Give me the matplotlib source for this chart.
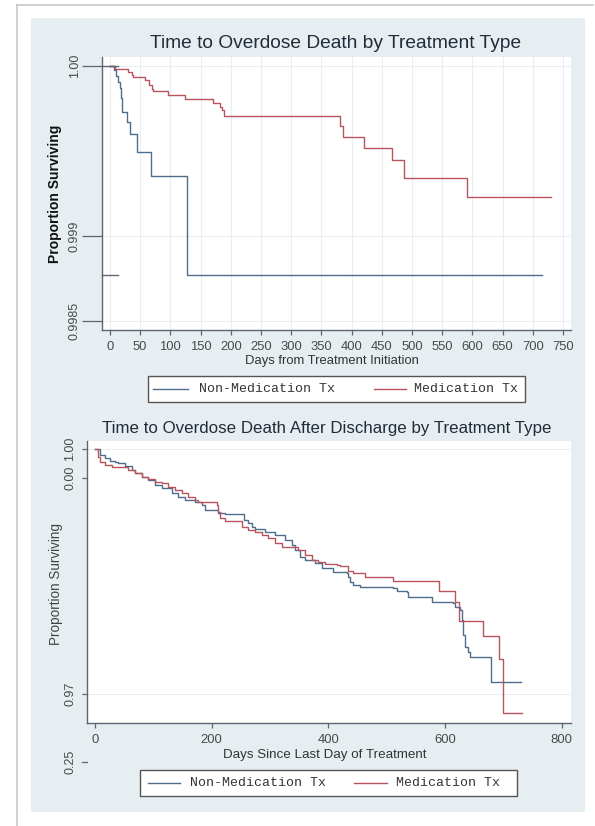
import matplotlib
matplotlib.use('Agg')
import matplotlib.pyplot as plt
from matplotlib.lines import Line2D
from matplotlib.patches import Rectangle
import matplotlib.transforms as mtransforms

plt.rcParams['font.family'] = ['Liberation Sans', 'DejaVu Sans']

# ---------------- data ----------------
title1 = "Time to Overdose Death by Treatment Type"
xlabel1 = "Days from Treatment Initiation"
title2 = "Time to Overdose Death After Discharge by Treatment Type"
xlabel2 = "Days Since Last Day of Treatment"
ylabel = "Proportion Surviving"
series_names = ["Non-Medication Tx", "Medication Tx"]

# Panel 1 (Kaplan-Meier, during treatment)
nonmed1_days = [0, 6.6, 9.9, 13.8, 16.6, 18.2, 20.4, 27.6, 33.1, 44.2, 67.4, 128.0, 715.0]
nonmed1_surv = [1.0, 0.999976, 0.999943, 0.999908, 0.999869, 0.999810, 0.999728,
                0.999672, 0.999600, 0.999496, 0.999355, 0.998771, 0.998771]
med1_days = [0, 8.3, 30.3, 36.9, 38.6, 57.9, 65.0, 69.0, 71.7, 96.5, 124.0, 171.0,
             182.0, 185.0, 189.0, 381.0, 386.0, 421.0, 466.4, 487.3, 591.6, 729.6]
med1_surv = [1.0, 0.999981, 0.999966, 0.999947, 0.999935, 0.999918, 0.999888, 0.999863,
             0.999853, 0.999829, 0.999804, 0.999784, 0.999761, 0.999741, 0.999706,
             0.999647, 0.999584, 0.999519, 0.999447, 0.999341, 0.999229, 0.999229]
# short stray segments near the y axis in panel 1
stray1_levels = [1.0, 0.998771]
stray1_end_day = 12.7

x1_ticks = list(range(0, 751, 50))
y1_ticks = [1.0, 0.999, 0.9985]
y1_ticklabels = ["1.00", "0.999", "0.9985"]

# Panel 2 (after discharge)
nonmed2_days = [0, 8.6, 17.1, 25.7, 34.3, 39.9, 51.4, 62.9, 68.6, 80.1, 91.4, 102.9, 114.3,
                131.5, 142.8, 154.3, 171.4, 182.9, 188.6, 211.4, 222.9, 256.0, 262.8,
                268.6, 274.3, 291.4, 308.6, 325.7, 337.2, 342.9, 351.4, 360.0, 377.2,
                388.7, 408.5, 431.5, 434.3, 437.2, 442.8, 454.3, 511.4, 517.2, 534.4,
                537.1, 577.2, 614.3, 617.2, 625.7, 628.7, 631.4, 634.3, 640.0, 642.9,
                678.4, 730.3]
nonmed2_surv = [1.0, 0.99927, 0.99886, 0.99857, 0.99844, 0.99825, 0.99792, 0.99743, 0.99702,
                0.99661, 0.99620, 0.99559, 0.99519, 0.99465, 0.99409, 0.99376, 0.99355,
                0.99314, 0.99253, 0.99220, 0.99204, 0.99131, 0.99090, 0.99049, 0.99017,
                0.98987, 0.98947, 0.98886, 0.98824, 0.98763, 0.98681, 0.98641, 0.98600,
                0.98539, 0.98498, 0.98478, 0.98436, 0.98375, 0.98335, 0.98314, 0.98294,
                0.98265, 0.98253, 0.98191, 0.98130, 0.98118, 0.98069, 0.98029, 0.97906,
                0.97722, 0.97579, 0.97518, 0.97449, 0.97151, 0.97151]
med2_days = [0, 4.6, 8.6, 17.1, 28.6, 57.1, 68.6, 80.1, 91.4, 102.9, 114.3, 125.7, 137.2,
             148.6, 160.0, 171.4, 177.1, 208.6, 211.4, 214.3, 222.9, 251.5, 262.8, 274.3,
             285.8, 297.1, 308.6, 320.1, 337.2, 348.5, 360.0, 371.5, 382.8, 394.3, 414.4,
             420.0, 434.3, 442.8, 463.1, 511.4, 590.3, 617.2, 624.5, 664.7, 692.6, 698.9,
             731.5]
med2_surv = [1.0, 0.99906, 0.99844, 0.99804, 0.99783, 0.99743, 0.99702, 0.99661, 0.99629,
             0.99600, 0.99580, 0.99538, 0.99498, 0.99458, 0.99416, 0.99376, 0.99355, 0.99314,
             0.99232, 0.99151, 0.99122, 0.99049, 0.99008, 0.98987, 0.98947, 0.98906,
             0.98845, 0.98804, 0.98796, 0.98763, 0.98702, 0.98641, 0.98620, 0.98592,
             0.98580, 0.98567, 0.98510, 0.98478, 0.98429, 0.98387, 0.98265, 0.98130,
             0.97897, 0.97710, 0.97425, 0.96764, 0.96764]

x2_ticks = [0, 200, 400, 600, 800]
y2_ticks = [1.0, 0.99645, 0.97]
y2_ticklabels = ["1.00", "0.00", "0.97"]
y2_extra_tick = 0.96167
y2_extra_label = "0.25"
y2_grid = [1.0, 0.97]

# ---------------- style ----------------
W, H = 595, 826
BG = '#e7eef2'
AX = '#5c6670'
GRID = '#e9eef2'
TK = '#4a4a4a'
TITLE = '#222c38'
C_NON = '#4d6d8b'
C_MED = '#b9545c'

fig = plt.figure(figsize=(W / 100, H / 100), dpi=100)
fig.patch.set_facecolor('white')


def fx(px):
    return px / W


def fy(py):
    return 1 - py / H


fig.add_artist(Rectangle((fx(31), fy(812)), fx(585) - fx(31), fy(18) - fy(812),
                         facecolor=BG, edgecolor='none', zorder=0))
fig.add_artist(Line2D([fx(17), fx(17)], [fy(5), fy(826)], color='#c8c8c8', lw=1.2))
fig.add_artist(Line2D([fx(17), fx(593)], [fy(5), fy(5)], color='#c8c8c8', lw=1.2))


def style_axes(ax):
    ax.set_facecolor('white')
    for s in ['top', 'right']:
        ax.spines[s].set_visible(False)
    for s in ['left', 'bottom']:
        ax.spines[s].set_color(AX)
        ax.spines[s].set_linewidth(1.0)


# ---------------- panel 1 ----------------
ax1 = fig.add_axes([fx(102), fy(330), fx(571) - fx(102), fy(57) - fy(330)])
style_axes(ax1)
ax1.set_xlim(-13.2, 763.2)
ax1.set_ylim(0.998447, 1.0000529)
ax1.set_xticks(x1_ticks)
ax1.set_yticks(y1_ticks, y1_ticklabels)
ax1.grid(True, color=GRID, lw=0.8, zorder=0)
ax1.set_axisbelow(True)
ax1.step(nonmed1_days, nonmed1_surv, where='post', color=C_NON, lw=1.0, zorder=3)
ax1.step(med1_days, med1_surv, where='post', color=C_MED, lw=1.0, zorder=3)
for lv in stray1_levels:
    ax1.plot([-13.2, stray1_end_day], [lv, lv], color=AX, lw=1.0, zorder=4, clip_on=False)
ax1.tick_params(axis='y', length=14.4, width=0.9, color=AX, labelsize=9, labelcolor=TK,
                pad=1, labelrotation=90)
ax1.tick_params(axis='x', length=3.6, width=0.9, color=AX, labelsize=9.4, labelcolor=TK, pad=4.5)
for lab in ax1.get_yticklabels():
    lab.set_va('center')

fig.text(fx(336), fy(43), title1, ha='center', va='center', fontsize=13.8, color=TITLE)
fig.text(fx(332), fy(361), xlabel1, ha='center', va='center', fontsize=9.4, color='#333333')
fig.text(fx(55), fy(193.5), ylabel, ha='center', va='center', rotation=90, fontsize=10,
         fontweight='bold', color='#111111')

# ---------------- panel 2 ----------------
ax2 = fig.add_axes([fx(87), fy(723), fx(571) - fx(87), fy(441) - fy(723)])
style_axes(ax2)
ax2.set_xlim(-13.7, 816.0)
ax2.set_ylim(0.96645, 1.00098)
ax2.set_xticks(x2_ticks)
ax2.set_yticks(y2_ticks, y2_ticklabels)
for g in y2_grid:
    ax2.axhline(g, color=GRID, lw=0.8, zorder=0)
ax2.step(nonmed2_days, nonmed2_surv, where='post', color=C_NON, lw=1.0, zorder=3)
ax2.step(med2_days, med2_surv, where='post', color=C_MED, lw=1.0, zorder=3)
ax2.tick_params(axis='y', length=3.6, width=0.9, color=AX, labelsize=9, labelcolor=TK,
                pad=4, labelrotation=90)
ax2.tick_params(axis='x', length=3.6, width=0.9, color=AX, labelsize=9.4, labelcolor=TK, pad=4.5)
for lab in ax2.get_yticklabels():
    lab.set_va('center')
trans2 = mtransforms.blended_transform_factory(ax2.transAxes, ax2.transData)
axw2 = 571 - 87
ax2.plot([-5 / axw2, 0], [y2_extra_tick, y2_extra_tick], transform=trans2, clip_on=False,
         color=AX, lw=0.9)
ax2.text((70 - 87) / axw2, y2_extra_tick, y2_extra_label, transform=trans2, rotation=90,
         ha='center', va='center', fontsize=9, color=TK, clip_on=False)

fig.text(fx(327), fy(428), title2, ha='center', va='center', fontsize=12.2, color=TITLE)
fig.text(fx(324.5), fy(755), xlabel2, ha='center', va='center', fontsize=9.6, color='#333333')
fig.text(fx(56), fy(584), ylabel, ha='center', va='center', rotation=90, fontsize=9.75,
         color='#444444')


# ---------------- legends ----------------
def legend_box(x0, x1, y0, y1, entries):
    fig.add_artist(Rectangle((fx(x0), fy(y1)), fx(x1) - fx(x0), fy(y0) - fy(y1),
                             facecolor='white', edgecolor='#555555', lw=1.0, zorder=2))
    yc = fy((y0 + y1) / 2)
    for color, label, hx0, hx1, tx in entries:
        fig.add_artist(Line2D([fx(hx0), fx(hx1)], [yc, yc], color=color, lw=1.0, zorder=3))
        fig.text(fx(tx), yc, label, ha='left', va='center', fontsize=9.5,
                 family='Liberation Mono', color='#333333', zorder=3)


legend_box(148, 525, 376, 402, [(C_NON, series_names[0], 153, 188, 199),
                                (C_MED, series_names[1], 374, 406, 414)])
legend_box(140, 517, 770, 796, [(C_NON, series_names[0], 148, 180, 190),
                                (C_MED, series_names[1], 354, 387, 396)])

fig.savefig('out.png', dpi=100, facecolor='white')
